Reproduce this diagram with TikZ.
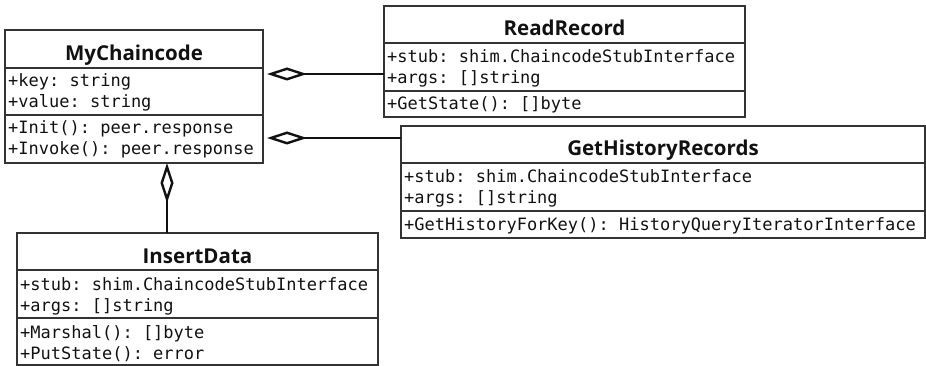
\documentclass[tikz,border=0pt]{standalone}
\usepackage{fontspec}
\setmonofont{DejaVu Sans Mono}
\newfontfamily\titlefamily{Open Sans}
\usetikzlibrary{arrows.meta}
\definecolor{boxgray}{HTML}{333333}
\definecolor{inkblack}{HTML}{111111}
\newcommand{\titlestyle}{\fontsize{20.5}{24}\selectfont\titlefamily\bfseries}
\newcommand{\rowstyle}{\fontsize{17}{20}\selectfont\ttfamily}
\tikzset{
  umlbox/.style={draw=boxgray, line width=1.3pt, inner sep=0pt, outer sep=0pt, anchor=north west},
  sepline/.style={draw=boxgray, line width=1.3pt},
  titletext/.style={anchor=base, inner sep=0pt, text=inkblack, font=\titlestyle},
  rowtext/.style={anchor=base west, inner sep=0pt, text=inkblack, font=\rowstyle},
  aggr/.style={line width=2.8pt, draw=inkblack,
    -{Diamond[open, length=40pt, width=13pt, line width=2.4pt]}}
}
\begin{document}
\begin{tikzpicture}[x=1pt, y=-1pt]
\useasboundingbox (0,0) rectangle (926,366);

% MyChaincode
\node[umlbox, minimum width=258pt, minimum height=133pt] (mc) at (5,30) {};
\draw[sepline] (mc.west |- 0,68) -- (mc.east |- 0,68);
\draw[sepline] (mc.west |- 0,115) -- (mc.east |- 0,115);
\node[titletext] (mct) at (mc.center |- 0,61) {MyChaincode};
\node[rowtext] (mc1) at (8,87) {+key: string};
\node[rowtext] (mc2) at (8,108) {+value: string};
\node[rowtext] (mc3) at (8,134) {+Init(): peer.response};
\node[rowtext] (mc4) at (8,155) {+Invoke(): peer.response};

% ReadRecord
\node[umlbox, minimum width=361pt, minimum height=111pt] (rr) at (384,6) {};
\draw[sepline] (rr.west |- 0,43) -- (rr.east |- 0,43);
\draw[sepline] (rr.west |- 0,91) -- (rr.east |- 0,91);
\node[titletext] (rrt) at (rr.center |- 0,36) {ReadRecord};
\node[rowtext] (rr1) at (387,63) {+stub: shim.ChaincodeStubInterface};
\node[rowtext] (rr2) at (387,84) {+args: []string};
\node[rowtext] (rr3) at (387,110) {+GetState(): []byte};

% GetHistoryRecords
\node[umlbox, minimum width=524pt, minimum height=112pt] (gh) at (401,126) {};
\draw[sepline] (gh.west |- 0,163) -- (gh.east |- 0,163);
\draw[sepline] (gh.west |- 0,211) -- (gh.east |- 0,211);
\node[titletext] (ght) at (gh.center |- 0,156) {GetHistoryRecords};
\node[rowtext] (gh1) at (404,183) {+stub: shim.ChaincodeStubInterface};
\node[rowtext] (gh2) at (404,204) {+args: []string};
\node[rowtext] (gh3) at (404,230) {+GetHistoryForKey(): HistoryQueryIteratorInterface};

% InsertData
\node[umlbox, minimum width=361pt, minimum height=132pt] (id) at (17,233) {};
\draw[sepline] (id.west |- 0,270) -- (id.east |- 0,270);
\draw[sepline] (id.west |- 0,318) -- (id.east |- 0,318);
\node[titletext] (idt) at (id.center |- 0,263) {InsertData};
\node[rowtext] (id1) at (20,290) {+stub: shim.ChaincodeStubInterface};
\node[rowtext] (id2) at (20,311) {+args: []string};
\node[rowtext] (id3) at (20,338) {+Marshal(): []byte};
\node[rowtext] (id4) at (20,359) {+PutState(): error};

% Aggregations
\draw[aggr, shorten >=4pt] (rr.west |- 0,74) -- (mc.east |- 0,74);
\draw[aggr, shorten >=4pt] (gh.west |- 0,138) -- (mc.east |- 0,138);
\draw[aggr] (id.north -| 167,0) -- (mc.south -| 167,0);
\end{tikzpicture}
\end{document}
